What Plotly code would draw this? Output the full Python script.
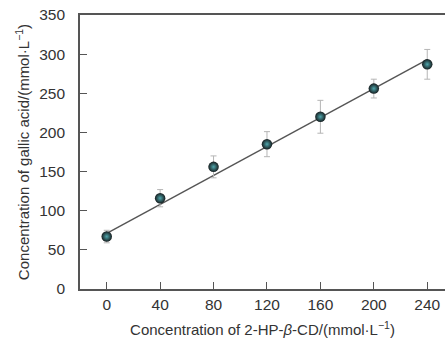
import plotly.graph_objects as go

# Data
cd_conc = [0, 40, 80, 120, 160, 200, 240]
gallic = [67, 116, 156, 185, 220, 256, 287]
gallic_err = [8, 11, 14, 16, 21, 12, 19]
fit_x = [0, 240]
fit_y = [71, 293]
x_ticks = [0, 40, 80, 120, 160, 200, 240]
y_ticks = [0, 50, 100, 150, 200, 250, 300, 350]

font_family = "Liberation Sans, Arial, sans-serif"

fig = go.Figure()
fig.add_trace(go.Scatter(
    x=fit_x, y=fit_y, mode="lines",
    line=dict(color="#555555", width=1.4),
    showlegend=False, hoverinfo="skip"))
fig.add_trace(go.Scatter(
    x=cd_conc, y=gallic, mode="markers",
    error_y=dict(type="data", array=gallic_err, color="#b5b5b5", thickness=1, width=3),
    marker=dict(size=10.5, color="#151c1e",
                gradient=dict(type="radial", color="#4fa7ad"),
                line=dict(width=0)),
    showlegend=False))

fig.update_layout(
    width=445, height=338,
    margin=dict(l=80, r=0, t=15, b=49),
    paper_bgcolor="white", plot_bgcolor="white",
    font=dict(family=font_family, color="#333333"),
)
fig.update_xaxes(
    range=[-20, 253.3], tickvals=x_ticks, ticktext=[str(v) for v in x_ticks],
    ticks="inside", ticklen=7, tickwidth=1.3, tickcolor="#555555",
    showline=True, linecolor="#555555", linewidth=1.6, mirror=True,
    showgrid=False, zeroline=False, ticklabelstandoff=1,
    tickfont=dict(size=15.5, color="#333333"),
    title=dict(text="Concentration of 2-HP-<i>β</i>-CD/(mmol·L<sup>−1</sup>)",
               font=dict(size=15, color="#333333"), standoff=12),
)
fig.update_yaxes(
    range=[0, 350], tickvals=y_ticks, ticktext=[str(v) for v in y_ticks],
    ticks="inside", ticklen=7, tickwidth=1.3, tickcolor="#555555",
    showline=True, linecolor="#555555", linewidth=1.6,
    showgrid=False, zeroline=False, ticklabelstandoff=10,
    tickfont=dict(size=15.5, color="#333333"),
    title=dict(text="Concentration of gallic acid/(mmol·L<sup>−1</sup>)",
               font=dict(size=15, color="#333333"), standoff=6),
)

fig.write_html(
    "out.html",
    config={"displayModeBar": False},
    post_script="document.body.style.margin='0';document.body.style.overflow='hidden';",
)
